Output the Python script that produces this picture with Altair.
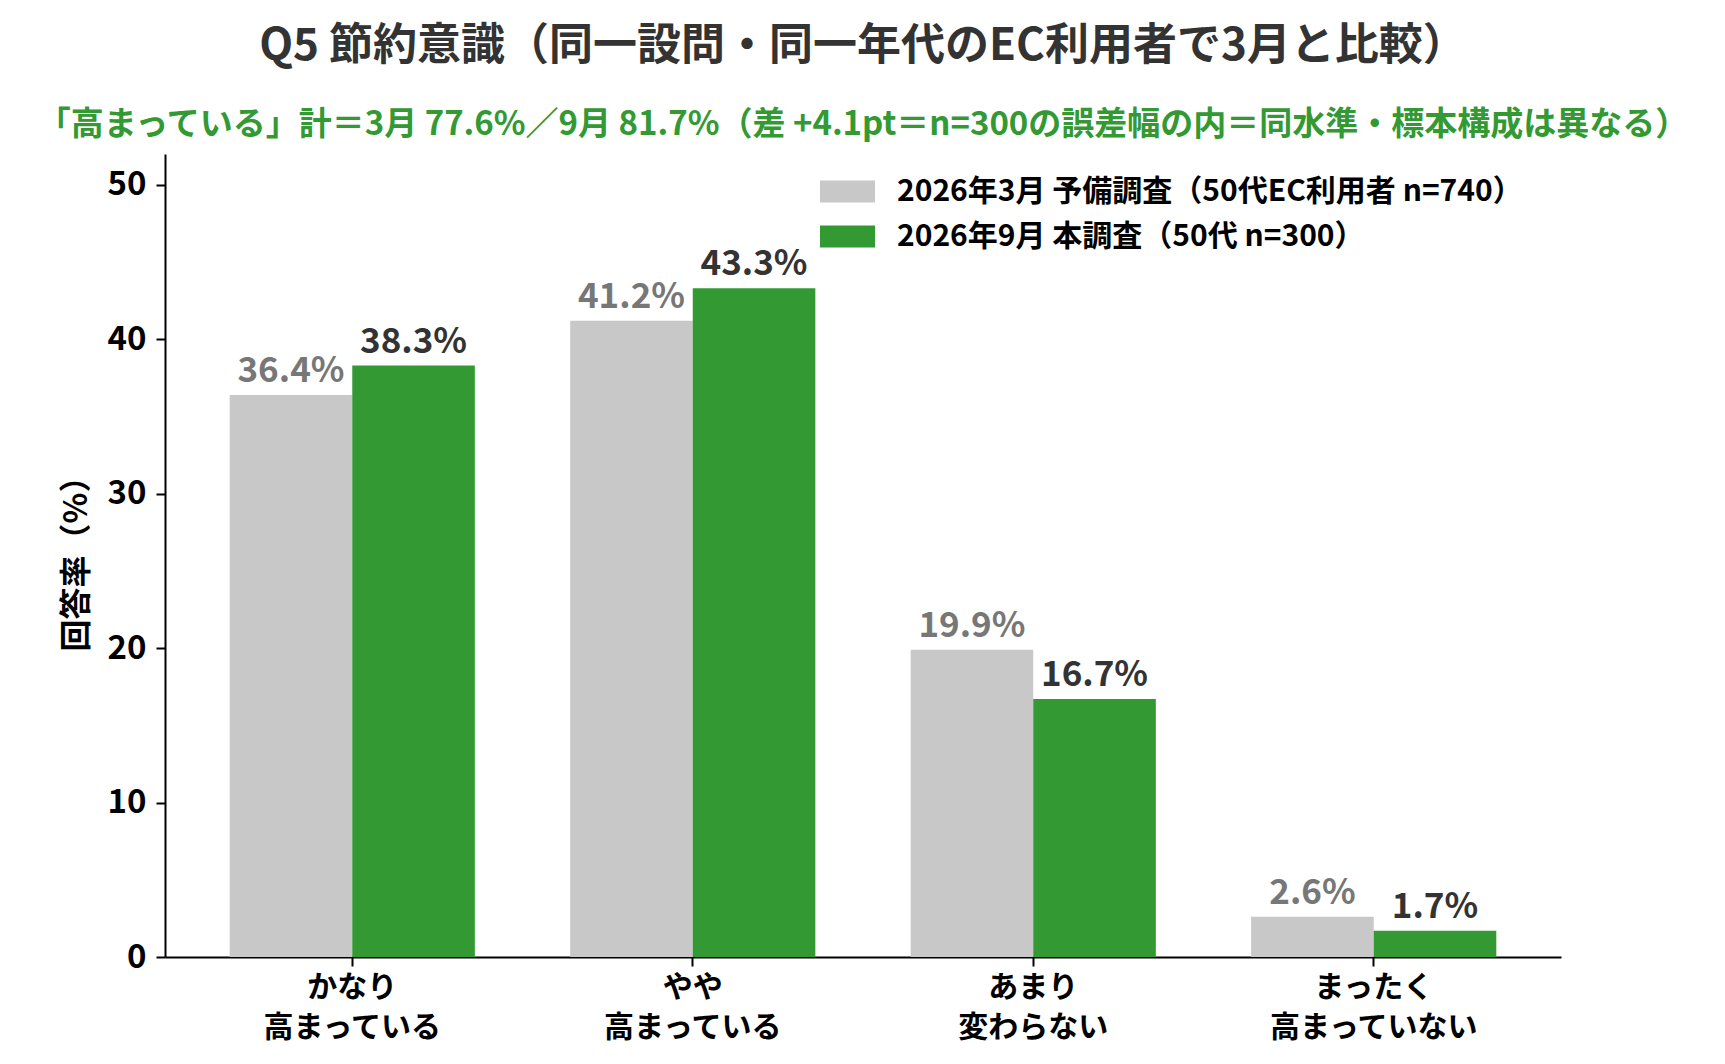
import altair as alt
import pandas as pd

categories = ["かなり\n高まっている", "やや\n高まっている", "あまり\n変わらない", "まったく\n高まっていない"]
series = ["2026年3月 予備調査（50代EC利用者 n=740）", "2026年9月 本調査（50代 n=300）"]
march_values = [36.4, 41.2, 19.9, 2.6]
sept_values = [38.3, 43.3, 16.7, 1.7]

title_text = "Q5 節約意識（同一設問・同一年代のEC利用者で3月と比較）"
subtitle_text = "「高まっている」計＝3月 77.6%／9月 81.7%（差 +4.1pt＝n=300の誤差幅の内＝同水準・標本構成は異なる）"
y_title = "回答率（%）"

rows = []
for c, v in zip(categories, march_values):
    rows.append({"cat": c, "series": series[0], "value": v, "label": f"{v:.1f}%"})
for c, v in zip(categories, sept_values):
    rows.append({"cat": c, "series": series[1], "value": v, "label": f"{v:.1f}%"})
df = pd.DataFrame(rows)

FONT = "Noto Sans CJK JP"
GRAY = "#c8c8c8"
GREEN = "#339933"

x_enc = alt.X(
    "cat:N",
    sort=categories,
    scale=alt.Scale(paddingInner=0.28, paddingOuter=0.19),
    axis=alt.Axis(
        title=None,
        labelAngle=0,
        labelExpr="split(datum.label, '\\n')",
        labelFont=FONT,
        labelFontSize=30,
        labelFontWeight="bold",
        labelColor="#000000",
        labelLineHeight=40,
        labelPadding=6,
        labelLimit=0,
        domainColor="#000000",
        domainWidth=2,
        tickColor="#000000",
        tickWidth=2,
        tickSize=9,
        grid=False,
    ),
)
xo_enc = alt.XOffset("series:N", sort=series, scale=alt.Scale(paddingInner=0, paddingOuter=0))
y_enc = alt.Y(
    "value:Q",
    scale=alt.Scale(domain=[0, 52], nice=False),
    axis=alt.Axis(
        title=y_title,
        titleFont=FONT,
        titleFontSize=32,
        titleFontWeight="bold",
        titleColor="#000000",
        titlePadding=14,
        values=[0, 10, 20, 30, 40, 50],
        labelFont=FONT,
        labelFontSize=33,
        labelFontWeight="bold",
        labelColor="#000000",
        labelPadding=10,
        domainColor="#000000",
        domainWidth=2,
        tickColor="#000000",
        tickWidth=2,
        tickSize=9,
        grid=False,
    ),
)

bars = alt.Chart().mark_bar().encode(
    x=x_enc,
    xOffset=xo_enc,
    y=y_enc,
    color=alt.Color(
        "series:N",
        sort=series,
        scale=alt.Scale(domain=series, range=[GRAY, GREEN]),
        legend=alt.Legend(
            title=None,
            orient="none",
            legendX=655,
            legendY=10,
            symbolType="M-1,-0.4L1,-0.4L1,0.4L-1,0.4Z",
            symbolSize=3025,
            symbolStrokeWidth=0,
            labelFont=FONT,
            labelFontSize=30,
            labelFontWeight="bold",
            labelColor="#000000",
            labelOffset=22,
            rowPadding=2,
            padding=0,
            labelLimit=0,
        ),
    ),
)

labels = alt.Chart().mark_text(
    baseline="bottom", dy=-6, font=FONT, fontSize=35, fontWeight="bold"
).encode(
    x=x_enc,
    xOffset=xo_enc,
    y=alt.Y("value:Q"),
    text="label:N",
    color=alt.Color(
        "series:N",
        sort=series,
        scale=alt.Scale(domain=series, range=["#777777", "#333333"]),
        legend=None,
    ),
)

chart = (
    alt.layer(bars, labels, data=df)
    .resolve_scale(color="independent")
    .properties(
        width=1396,
        height=803,
        padding={"left": 157, "top": 146, "right": 150, "bottom": 92},
        autosize=alt.AutoSizeParams(type="none"),
        title=alt.TitleParams(
            text=title_text,
            subtitle=subtitle_text,
            font=FONT,
            fontSize=44,
            fontWeight="bold",
            color="#333333",
            subtitleFont=FONT,
            subtitleFontSize=33,
            subtitleFontWeight="bold",
            subtitleColor="#339933",
            subtitlePadding=40,
            anchor="middle",
            offset=12,
        ),
    )
    .configure(background="#ffffff")
    .configure_view(strokeWidth=0, stroke=None)
)

chart.save("out.html", embed_options={"renderer": "svg", "actions": False})
